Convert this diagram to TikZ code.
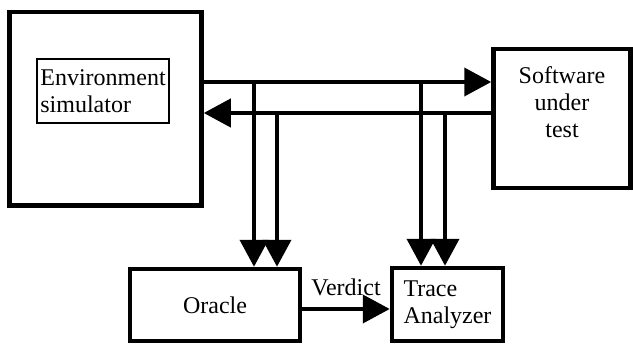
\documentclass[tikz,border=0pt]{standalone}
\usepackage{fontspec}
\setmainfont{Liberation Serif}
\usetikzlibrary{arrows.meta,positioning}
\begin{document}
\begin{tikzpicture}[x=1pt,y=-1pt,
  every node/.style={font=\fontsize{24}{27}\selectfont},
  box/.style={draw,line width=4.5pt,inner sep=0pt},
  flow/.style={line width=4pt,-{Triangle[length=27pt,width=28pt]}}]
  \useasboundingbox (0,0) rectangle (633,345);
  % boxes
  \node[box,minimum width=192pt,minimum height=193.5pt] (env) at (105.5,108.75) {};
  \node[draw,line width=2pt,minimum width=132pt,minimum height=64pt,
    align=left,inner sep=3pt] (envsim) at (103,91) {Environment\\simulator};
  \node[box,minimum width=137pt,minimum height=139pt] (sut) at (562,118.5) {};
  \node[align=center,below=16pt of sut.north] (suttext) {Software\\under\\test};
  \node[box,minimum width=170pt,minimum height=72pt] (oracle) at (215,305) {Oracle};
  \node[box,minimum width=111pt,minimum height=73pt,align=left] (trace) at (447.5,304.5) {Trace\\Analyzer};
  % levels
  \coordinate (up) at (0,82);
  \coordinate (lo) at (0,113);
  \coordinate (v) at (0,309);
  \coordinate (t1) at (254,82);
  \coordinate (t2) at (277,113);
  \coordinate (t3) at (421,82);
  \coordinate (t4) at (445,113);
  % flows
  \draw[flow] (env.east |- up) -- (sut.west |- up);
  \draw[flow] (sut.west |- lo) -- (env.east |- lo);
  \draw[flow] (t1) -- (t1 |- oracle.north);
  \draw[flow] (t2) -- (t2 |- oracle.north);
  \draw[flow] (t3) -- (t3 |- trace.north);
  \draw[flow] (t4) -- (t4 |- trace.north);
  \draw[flow] (oracle.east |- v) -- node[above=8pt] (verdict) {Verdict} (trace.west |- v);
\end{tikzpicture}
\end{document}
